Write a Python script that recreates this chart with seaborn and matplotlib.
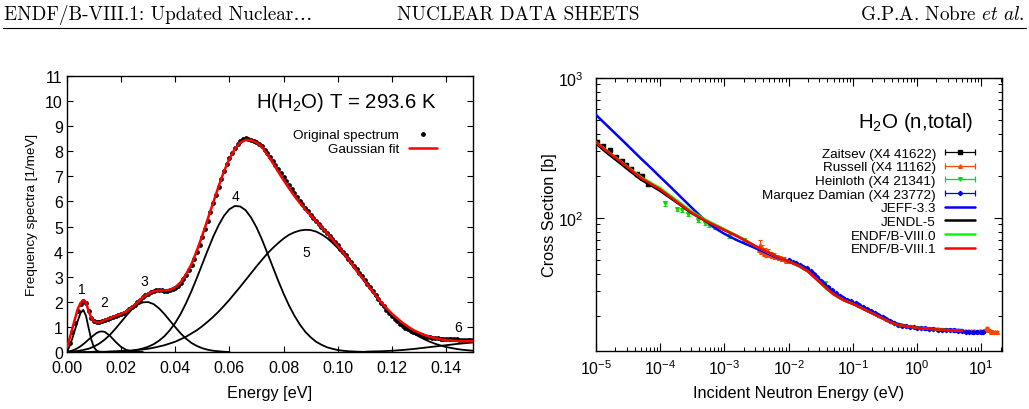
import numpy as np
import matplotlib
matplotlib.use("Agg")
import matplotlib.pyplot as plt
import seaborn as sns
from matplotlib.lines import Line2D
from matplotlib.container import ErrorbarContainer
from matplotlib.legend_handler import HandlerErrorbar
from matplotlib.ticker import MultipleLocator, FormatStrFormatter, LogLocator, NullFormatter

# ---------------- left panel: H(H2O) frequency spectrum ----------------
spec_energy = np.linspace(0.0, 0.15, 151)
spec_value = [
    0.00, 0.35, 0.80, 1.15, 1.65, 1.90, 2.05, 1.95, 1.65, 1.35,
    1.22, 1.18, 1.20, 1.24, 1.28, 1.32, 1.36, 1.40, 1.44, 1.48,
    1.52, 1.57, 1.62, 1.70, 1.78, 1.88, 1.98, 2.08, 2.18, 2.26,
    2.33, 2.39, 2.44, 2.46, 2.47, 2.46, 2.45, 2.45, 2.46, 2.50,
    2.55, 2.65, 2.75, 2.90, 3.05, 3.25, 3.45, 3.70, 3.98, 4.28,
    4.58, 4.90, 5.22, 5.58, 5.92, 6.25, 6.58, 6.90, 7.22, 7.48,
    7.75, 7.95, 8.15, 8.30, 8.42, 8.50, 8.52, 8.50, 8.45, 8.40,
    8.35, 8.28, 8.20, 8.06, 7.92, 7.76, 7.60, 7.44, 7.28, 7.12,
    6.96, 6.80, 6.64, 6.48, 6.32, 6.17, 6.02, 5.88, 5.74, 5.60,
    5.48, 5.36, 5.24, 5.12, 5.00, 4.88, 4.76, 4.64, 4.50, 4.38,
    4.26, 4.12, 4.00, 3.86, 3.72, 3.58, 3.44, 3.30, 3.16, 3.02,
    2.88, 2.72, 2.58, 2.42, 2.26, 2.12, 1.96, 1.82, 1.68, 1.55,
    1.42, 1.32, 1.22, 1.12, 1.04, 0.96, 0.90, 0.84, 0.79, 0.74,
    0.70, 0.66, 0.63, 0.60, 0.58, 0.56, 0.55, 0.54, 0.53, 0.52,
    0.52, 0.51, 0.51, 0.50, 0.50, 0.49, 0.49, 0.48, 0.48, 0.47,
    0.47,
]

fit_energy = list(np.linspace(0.0, 0.012, 13)) + list(np.linspace(0.014, 0.15, 69))
fit_value = [
    0.18, 0.55, 0.95, 1.35, 1.72, 1.95, 2.07, 1.98, 1.62, 1.36, 1.22, 1.18, 1.17,
    1.28, 1.36, 1.44, 1.52, 1.62, 1.78, 1.98, 2.18, 2.32, 2.42, 2.45, 2.45, 2.48,
    2.58, 2.78, 3.10, 3.50, 4.05, 4.65, 5.30, 5.95, 6.60, 7.20, 7.70, 8.10, 8.35,
    8.45, 8.45, 8.35, 8.18, 7.87, 7.54, 7.19, 6.85, 6.53, 6.22, 5.94, 5.68, 5.45,
    5.21, 4.98, 4.74, 4.49, 4.23, 3.96, 3.68, 3.39, 3.10, 2.82, 2.53, 2.26, 1.99,
    1.75, 1.53, 1.34, 1.16, 1.01, 0.87, 0.77, 0.68, 0.61, 0.55, 0.51, 0.47, 0.46,
    0.44, 0.43, 0.43, 0.43,
]

# individual gaussian components
g1_energy = np.linspace(0.0, 0.013, 14)
g1_value = [0.0, 0.25, 0.55, 0.90, 1.25, 1.55, 1.68, 1.45, 0.95, 0.48, 0.18, 0.05, 0.01, 0.0]

g2_energy = list(np.linspace(0.0, 0.014, 15)) + list(np.linspace(0.016, 0.028, 7))
g2_value = [0.0, 0.03, 0.06, 0.10, 0.16, 0.23, 0.31, 0.40, 0.50, 0.59, 0.68, 0.76, 0.81,
            0.82, 0.80, 0.63, 0.40, 0.20, 0.08, 0.025, 0.005, 0.0]

g3_energy = np.linspace(0.0, 0.06, 31)
g3_value = [0.0, 0.02, 0.04, 0.08, 0.13, 0.22, 0.34, 0.50, 0.70, 0.94, 1.20, 1.46, 1.70,
            1.88, 1.98, 1.99, 1.91, 1.74, 1.51, 1.25, 0.99, 0.74, 0.53, 0.36, 0.24, 0.15,
            0.09, 0.05, 0.03, 0.01, 0.0]

g4_energy = np.linspace(0.014, 0.112, 50)
g4_value = [0.0, 0.01, 0.01, 0.02, 0.03, 0.05, 0.09, 0.14, 0.21, 0.31, 0.45, 0.63, 0.87,
            1.16, 1.52, 1.95, 2.43, 2.96, 3.51, 4.06, 4.59, 5.05, 5.43, 5.69, 5.82, 5.80,
            5.65, 5.36, 4.97, 4.49, 3.95, 3.40, 2.85, 2.33, 1.86, 1.45, 1.10, 0.81, 0.59,
            0.41, 0.29, 0.19, 0.13, 0.08, 0.05, 0.03, 0.02, 0.01, 0.005, 0.0]

g5_energy = np.linspace(0.0, 0.15, 76)
g5_value = [0.0, 0.0, 0.0, 0.0, 0.0, 0.01, 0.01, 0.01, 0.02, 0.03, 0.04, 0.05, 0.06, 0.08,
            0.10, 0.13, 0.17, 0.22, 0.27, 0.34, 0.41, 0.51, 0.61, 0.74, 0.87, 1.03, 1.21,
            1.40, 1.61, 1.84, 2.08, 2.34, 2.60, 2.87, 3.14, 3.41, 3.67, 3.92, 4.14, 4.34,
            4.52, 4.67, 4.77, 4.84, 4.87, 4.86, 4.80, 4.69, 4.55, 4.36, 4.15, 3.91, 3.65,
            3.37, 3.09, 2.80, 2.51, 2.23, 1.96, 1.71, 1.48, 1.27, 1.08, 0.91, 0.75, 0.62,
            0.51, 0.41, 0.33, 0.26, 0.20, 0.16, 0.12, 0.09, 0.07, 0.05]

g6_energy = np.linspace(0.11, 0.15, 21)
g6_value = [0.01, 0.02, 0.025, 0.03, 0.04, 0.05, 0.065, 0.08, 0.10, 0.12, 0.145, 0.17,
            0.195, 0.22, 0.245, 0.27, 0.295, 0.32, 0.34, 0.36, 0.38]

peak_labels = ["1", "2", "3", "4", "5", "6"]
peak_label_x = [0.0054, 0.0137, 0.0284, 0.0624, 0.0883, 0.1446]
peak_label_y = [2.5, 1.98, 2.84, 6.23, 4.0, 0.98]

# ---------------- right panel: H2O total cross section ----------------
eval_energy = [1e-5, 1.5e-5, 2e-5, 3e-5, 5e-5, 7e-5, 1e-4, 1.5e-4, 2e-4, 3e-4, 5e-4, 7e-4,
               1e-3, 1.5e-3, 2e-3, 3e-3, 5e-3, 7e-3, 1e-2, 1.5e-2, 2e-2, 3e-2, 4e-2, 5e-2,
               7e-2, 0.1, 0.15, 0.2, 0.3, 0.4, 0.5, 0.7, 1.0, 2.0, 3.0, 5.0]
endf81_xs = [347, 299, 270, 233, 193, 176, 160, 139, 126, 110, 95.7, 88.7, 82, 75, 70, 63,
             56.2, 52, 49, 45, 41.5, 35, 31, 28.5, 26, 24.3, 22.2, 20.8, 19.0, 17.8, 17.2,
             16.8, 16.4, 16.0, 15.8, 15.6]
endf80_xs = [349, 301, 272, 235, 196, 179, 163, 142, 129, 112, 97.5, 90, 83, 75.5, 70.3, 63,
             56.2, 52, 49, 45, 41.5, 35, 31, 28.5, 26, 24.3, 22.2, 20.8, 19.0, 17.8, 17.2,
             16.8, 16.4, 16.0, 15.8, 15.6]
jendl5_xs = [340, 290, 262, 226, 188, 172, 156, 137, 125, 109, 95.5, 88.5, 82, 75, 70, 63,
             56.2, 52, 49, 45, 41.5, 35, 31, 28.5, 26, 24.3, 22.2, 20.8, 19.0, 17.8, 17.2,
             16.8, 16.4, 16.0, 15.8, 15.6]
jeff33_xs = [545, 455, 401, 335, 266, 230, 196, 164, 144, 120, 96, 85, 77, 70, 66, 61, 55,
             51.5, 49.5, 46, 43, 36.5, 32.3, 29.5, 26.8, 25, 22.8, 21.4, 19.5, 18.2, 17.5,
             16.9, 16.5, 16.1, 15.95, 15.8]

zaitsev_e = [1.05e-5, 1.3e-5, 1.65e-5, 2.05e-5, 2.5e-5, 2.93e-5, 3.5e-5, 4.3e-5, 5.15e-5, 6.4e-5]
zaitsev_xs = [350, 325, 307, 271, 257, 239, 224, 207, 200, 175]
zaitsev_err = [10, 9, 9, 8, 7, 7, 6, 6, 6, 5]

russell_e = [3.5e-3, 3.6e-3, 3.75e-3, 3.9e-3, 4.1e-3, 4.3e-3, 4.5e-3, 4.75e-3, 5.0e-3, 5.3e-3,
             5.6e-3, 5.9e-3, 6.2e-3, 6.6e-3, 7.0e-3, 7.4e-3, 7.9e-3, 8.4e-3, 9.0e-3, 9.6e-3,
             5.5, 6.2, 7.0, 7.8, 8.6, 9.5, 10.5, 11.5, 12.3, 13.2, 14.2, 15.3, 16.5, 17.4]
russell_xs = [60, 64, 58, 61, 56, 58.5, 55, 57, 54.5, 55.5, 53.5, 54, 52.5, 53, 51.5, 52, 50.5,
              51, 49.5, 49, 15.6, 15.5, 15.45, 15.5, 15.4, 15.45, 15.5, 15.7, 16.3, 15.8, 15.4,
              15.3, 15.25, 15.2]
russell_err = [3, 5, 3, 3, 2.5, 2.5, 2, 2.5, 2, 2, 2, 2, 1.5, 1.5, 1.5, 1.5, 1.5, 1.5, 1.2, 1.2,
               0.3, 0.3, 0.3, 0.3, 0.3, 0.3, 0.3, 0.3, 0.3, 0.3, 0.3, 0.3, 0.3, 0.3]

heinloth_e = [1.19e-4, 1.81e-4, 2.16e-4, 2.68e-4, 3.93e-4, 4.99e-4, 5.82e-4, 7.14e-4, 1.19e-3,
              2.04e-3, 3.7e-2]
heinloth_xs = [127, 116, 114, 107, 96.8, 92, 89, 86, 74.8, 70, 34.4]
heinloth_err = [5, 4, 4, 4, 3, 3, 3, 3, 2.5, 2, 1]

marquez_e = [0.010, 0.0115, 0.013, 0.015, 0.017, 0.019, 0.022, 0.025, 0.028, 0.032, 0.036,
             0.041, 0.047, 0.054, 0.062, 0.071, 0.082, 0.094, 0.11, 0.125, 0.145, 0.165,
             0.19, 0.22, 0.25, 0.29, 0.33, 0.38, 0.44, 0.50, 0.58, 0.67, 0.77, 0.88, 1.0,
             1.15, 1.35, 1.55, 1.8, 2.1, 2.4, 2.8, 3.2, 3.7, 4.3, 5.0, 5.7, 6.5, 7.5, 8.6,
             9.8, 10.8]
marquez_xs = [50.0, 48.8, 47.5, 46.2, 44.9, 43.6, 41.5, 39.8, 37.6, 35.4, 33.8, 32.2, 30.6,
              29.0, 27.9, 26.9, 26.0, 25.3, 24.6, 23.8, 23.0, 22.3, 21.6, 20.9, 20.3, 19.6,
              19.0, 18.4, 17.7, 17.3, 17.0, 16.8, 16.7, 16.55, 16.45, 16.35, 16.25, 16.15,
              16.05, 15.95, 15.9, 15.85, 15.8, 15.7, 15.65, 15.6, 15.4, 15.3, 15.2, 15.35,
              15.3, 15.4]
marquez_err = [0.5, 0.5, 0.5, 0.5, 0.45, 0.45, 0.4, 0.4, 0.4, 0.35, 0.35, 0.35, 0.3, 0.3,
               0.3, 0.3, 0.3, 0.3, 0.3, 0.3, 0.3, 0.3, 0.3, 0.3, 0.3, 0.3, 0.3, 0.3, 0.3,
               0.3, 0.3, 0.3, 0.3, 0.3, 0.3, 0.3, 0.3, 0.3, 0.3, 0.3, 0.3, 0.3, 0.3, 0.3,
               0.3, 0.3, 0.35, 0.35, 0.4, 0.4, 0.4, 0.4]

# ---------------- style ----------------
sns.set_theme(style="ticks")
plt.rcParams.update({
    "font.family": ["Liberation Sans", "DejaVu Sans"],
    "mathtext.fontset": "custom",
    "mathtext.rm": "Liberation Sans",
    "mathtext.it": "Liberation Sans:italic",
    "mathtext.bf": "Liberation Sans:bold",
    "mathtext.default": "regular",
    "axes.edgecolor": "black",
    "axes.labelcolor": "black",
    "text.color": "black",
    "xtick.color": "black",
    "ytick.color": "black",
    "axes.linewidth": 1.0,
})

fig = plt.figure(figsize=(10.29, 4.10), dpi=100)
W, H = 1029.0, 410.0

# page header
serif = ["cmr10", "DejaVu Serif"]
fig.text(4 / W, 1 - 20 / H, "ENDF/B-VIII.1: Updated Nuclear\u2026", family=serif,
         fontsize=13.8, va="baseline", ha="left")
fig.text(518 / W, 1 - 20 / H, "NUCLEAR DATA SHEETS", family=serif, fontsize=13.8,
         va="baseline", ha="center")
fig.text(1025 / W, 1 - 20 / H, r"G.P.A. Nobre $\it{et\ al.}$", family=serif, fontsize=13.8,
         va="baseline", ha="right", math_fontfamily="cm")
fig.add_artist(Line2D([3 / W, 1026 / W], [1 - 28.5 / H, 1 - 28.5 / H],
                      transform=fig.transFigure, color="black", lw=0.8))

# ---------------- left axes ----------------
ax1 = fig.add_axes([67 / W, 1 - 353 / H, 406 / W, 276 / H])
for ex, ey in [(g1_energy, g1_value), (g2_energy, g2_value), (g3_energy, g3_value),
               (g4_energy, g4_value), (g5_energy, g5_value), (g6_energy, g6_value)]:
    sns.lineplot(x=ex, y=ey, ax=ax1, color="black", lw=1.3, sort=False)
sns.scatterplot(x=spec_energy, y=spec_value, ax=ax1, color="black", s=12, linewidth=0, zorder=3)
dots = ax1.collections[-1]
sns.lineplot(x=fit_energy, y=fit_value, ax=ax1, color="#ff0000", lw=1.8, sort=False, zorder=4)
fit_line = ax1.lines[-1]

for lab, lx, ly in zip(peak_labels, peak_label_x, peak_label_y):
    ax1.text(lx, ly, lab, ha="center", va="center", fontsize=10)

ax1.set_xlim(0, 0.15)
ax1.set_ylim(0, 11)
ax1.xaxis.set_major_locator(MultipleLocator(0.02))
ax1.xaxis.set_major_formatter(FormatStrFormatter("%.2f"))
ax1.yaxis.set_major_locator(MultipleLocator(1))
ax1.tick_params(which="both", direction="in", top=True, right=True, length=4.5, width=0.8,
                labelsize=11.5)
ax1.tick_params(axis="x", pad=6)
ax1.tick_params(axis="y", pad=3)
ax1.set_xlabel("Energy [eV]", fontsize=11.7)
ax1.set_ylabel("Frequency spectra [1/meV]", fontsize=9.7)
ax1.xaxis.label.set_va("center")
ax1.yaxis.label.set_va("center")
ax1.xaxis.set_label_coords(0.5, -0.145)
ax1.yaxis.set_label_coords(-0.087, 0.5)
ax1.text(0.911, 0.8866, r"H(H$_2$O) T = 293.6 K", transform=ax1.transAxes, ha="right",
         va="baseline", fontsize=14.7)
leg1 = ax1.legend([dots, fit_line], ["Original spectrum", "Gaussian fit"],
                  loc="upper right", bbox_to_anchor=(0.911, 0.811), frameon=False,
                  markerfirst=False, fontsize=9.7, handlelength=2.1, handletextpad=0.7,
                  borderpad=0, borderaxespad=0, labelspacing=0.17, scatterpoints=1)

# ---------------- right axes ----------------
ax2 = fig.add_axes([596 / W, 1 - 352 / H, 406 / W, 273 / H])
ax2.set_xscale("log")
ax2.set_yscale("log")

data_sets = [
    ("Zaitsev (X4 41622)", zaitsev_e, zaitsev_xs, zaitsev_err, "black", "s", 3.2),
    ("Russell (X4 11162)", russell_e, russell_xs, russell_err, "#ff4500", "^", 2.6),
    ("Heinloth (X4 21341)", heinloth_e, heinloth_xs, heinloth_err, "#00e000", "v", 2.6),
    ("Marquez Damian (X4 23772)", marquez_e, marquez_xs, marquez_err, "#0000ff", "D", 2.2),
]
handles, labels = [], []
for name, de, dxs, derr, col, mk, ms in data_sets:
    ax2.errorbar(de, dxs, yerr=derr, fmt=mk, color=col, ms=ms, elinewidth=0.8, capsize=1.2,
                 capthick=0.8, zorder=2)
    proxy = ax2.errorbar([np.nan], [np.nan], xerr=[1.0], fmt=mk, color=col, ms=ms,
                         elinewidth=0.9, capsize=2.0, capthick=0.9)
    handles.append(proxy)
    labels.append(name)

for name, vals, col in [("JEFF-3.3", jeff33_xs, "#0000ff"), ("JENDL-5", jendl5_xs, "black"),
                        ("ENDF/B-VIII.0", endf80_xs, "#00ff00"),
                        ("ENDF/B-VIII.1", endf81_xs, "#ff0000")]:
    sns.lineplot(x=eval_energy, y=vals, ax=ax2, color=col, lw=1.8, sort=False, zorder=3)
    handles.append(ax2.lines[-1])
    labels.append(name)

ax2.set_xlim(1e-5, 21)
ax2.set_ylim(11.2, 1000)
ax2.xaxis.set_major_locator(LogLocator(base=10, numticks=20))
ax2.xaxis.set_minor_locator(LogLocator(base=10, subs=np.arange(2, 10), numticks=20))
ax2.xaxis.set_minor_formatter(NullFormatter())
ax2.yaxis.set_minor_formatter(NullFormatter())
ax2.tick_params(which="major", direction="in", top=True, right=True, length=5.5, width=0.8,
                labelsize=11.5)
ax2.tick_params(which="minor", direction="in", top=True, right=True, length=2.8, width=0.7)
ax2.tick_params(axis="x", which="major", pad=5)
ax2.tick_params(axis="y", which="major", pad=9)
ax2.set_xlabel("Incident Neutron Energy (eV)", fontsize=11.7)
ax2.set_ylabel("Cross Section [b]", fontsize=11.7)
ax2.xaxis.label.set_va("center")
ax2.yaxis.label.set_va("center")
ax2.xaxis.set_label_coords(0.5, -0.151)
ax2.yaxis.set_label_coords(-0.115, 0.5)
ax2.text(0.9286, 0.8194, r"H$_2$O (n,total)", transform=ax2.transAxes, ha="right",
         va="baseline", fontsize=14.8)
leg2 = ax2.legend(handles, labels, loc="upper right", bbox_to_anchor=(0.9335, 0.746),
                  frameon=False, markerfirst=False, fontsize=9.7, handlelength=2.2,
                  handletextpad=0.7, borderpad=0, borderaxespad=0, labelspacing=0.09,
                  numpoints=1, handler_map={ErrorbarContainer: HandlerErrorbar(xerr_size=1.1)})

fig.savefig("out.png", dpi=100)
